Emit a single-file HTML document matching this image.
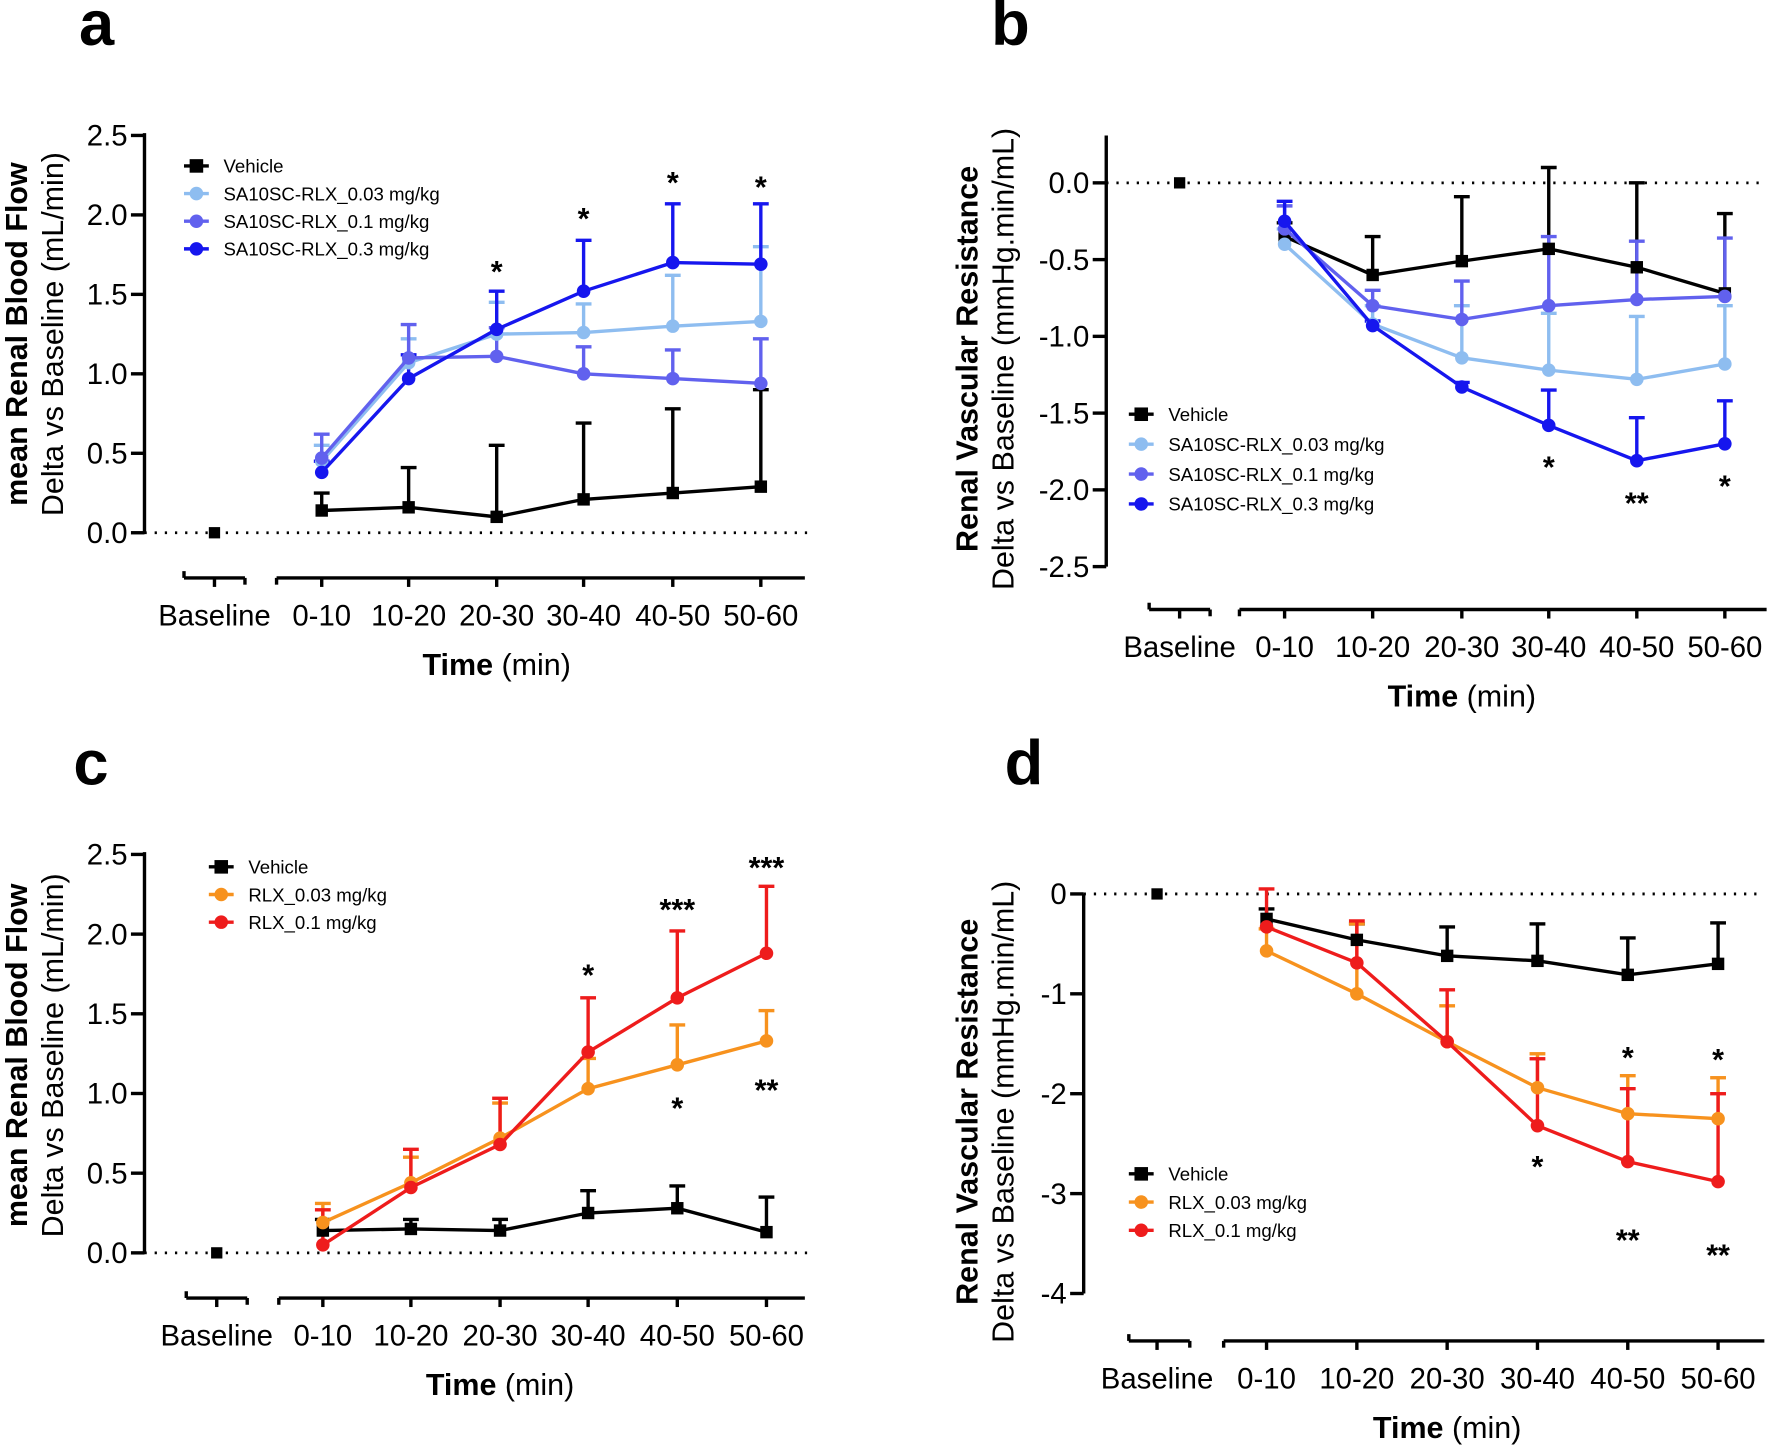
<!DOCTYPE html>
<html><head><meta charset="utf-8"><style>
html,body{margin:0;padding:0;background:#fff}
svg{display:block}
text{font-family:"Liberation Sans",Arial,sans-serif}
</style></head><body>
<svg id="s" xmlns="http://www.w3.org/2000/svg" width="1770" height="1447" viewBox="0 0 1568 1282" preserveAspectRatio="none"></svg>
<script>
const S=document.getElementById('s');let h='';
function add(x){h+=x;}
function panel(p){
  const Y=v=>p.y0+(v-p.v0)*(p.y1-p.y0)/(p.v1-p.v0);
  add(`<line x1="${p.ax}" y1="${p.atop}" x2="${p.ax}" y2="${p.abot}" stroke="#000" stroke-width="3"/>`);
  p.ticks.forEach(t=>{const y=Y(t[0]);add(`<line x1="${p.ax-12}" y1="${y}" x2="${p.ax}" y2="${y}" stroke="#000" stroke-width="3"/><text x="${p.ax-15}" y="${y+9}" font-size="26" text-anchor="end">${t[1]}</text>`);});
  const yz=Y(0);add(`<line x1="${p.ax}" y1="${yz}" x2="${p.xend}" y2="${yz}" stroke="#000" stroke-width="2.5" stroke-dasharray="2,7"/>`);
  const xb=p.xaxY;
  add(`<line x1="${p.bs[0]}" y1="${xb}" x2="${p.bs[1]}" y2="${xb}" stroke="#000" stroke-width="3"/>`);
  add(`<line x1="${p.bs[0]}" y1="${xb-6}" x2="${p.bs[0]}" y2="${xb}" stroke="#000" stroke-width="3"/><line x1="${p.bs[1]}" y1="${xb}" x2="${p.bs[1]}" y2="${xb+6}" stroke="#000" stroke-width="3"/>`);
  add(`<line x1="${p.ms[0]}" y1="${xb}" x2="${p.ms[1]}" y2="${xb}" stroke="#000" stroke-width="3"/><line x1="${p.ms[0]}" y1="${xb}" x2="${p.ms[0]}" y2="${xb+6}" stroke="#000" stroke-width="3"/>`);
  p.cx.forEach(x=>add(`<line x1="${x}" y1="${xb}" x2="${x}" y2="${xb+8}" stroke="#000" stroke-width="3"/>`));
  const labs=['Baseline','0-10','10-20','20-30','30-40','40-50','50-60'];
  labs.forEach((l,i)=>add(`<text x="${p.cx[i]}" y="${xb+42}" font-size="26" text-anchor="middle">${l}</text>`));
  add(`<text x="${p.cx[3]}" y="${xb+86}" font-size="27" text-anchor="middle"><tspan font-weight="bold">Time</tspan> (min)</text>`);
  add(`<text transform="translate(${p.yl1},${p.ylc}) rotate(-90)" font-size="27" font-weight="bold" text-anchor="middle">${p.t1}</text>`);
  add(`<text transform="translate(${p.yl2},${p.ylc}) rotate(-90)" font-size="27" text-anchor="middle">${p.t2}</text>`);
  add(`<text x="${p.lx}" y="${p.ly}" font-size="56" font-weight="bold">${p.letter}</text>`);
  add(`<rect x="${p.cx[0]-5}" y="${yz-5}" width="10" height="10" fill="#000"/>`);
  p.series.forEach(s=>{
    s.v.forEach((v,i)=>{const x=p.cx[i+1];const e=s.e[i];
      add(`<line x1="${x}" y1="${Y(v)}" x2="${x}" y2="${Y(e)}" stroke="${s.c}" stroke-width="3"/><line x1="${x-7}" y1="${Y(e)}" x2="${x+7}" y2="${Y(e)}" stroke="${s.c}" stroke-width="3"/>`);});
  });
  p.series.forEach(s=>{
    add(`<polyline fill="none" stroke="${s.c}" stroke-width="3" points="${s.v.map((v,i)=>p.cx[i+1]+','+Y(v)).join(' ')}"/>`);
    s.v.forEach((v,i)=>{const x=p.cx[i+1],y=Y(v);
      add(s.sq?`<rect x="${x-5.5}" y="${y-5.5}" width="11" height="11" fill="${s.c}"/>`:`<circle cx="${x}" cy="${y}" r="6" fill="${s.c}"/>`);});
  });
  p.series.forEach((s,i)=>{const y=p.leg[1]+i*p.leg[2];const x=p.leg[0];
    add(`<line x1="${x}" y1="${y}" x2="${x+22}" y2="${y}" stroke="${s.c}" stroke-width="3"/>`+(s.sq?`<rect x="${x+5}" y="${y-6}" width="12" height="12" fill="${s.c}"/>`:`<circle cx="${x+11}" cy="${y}" r="6" fill="${s.c}"/>`)+`<text x="${x+35}" y="${y+6}" font-size="16.5">${s.n}</text>`);});
  p.stars.forEach(t=>add(`<text x="${p.cx[t[0]]}" y="${t[1]}" font-size="27" font-weight="bold" text-anchor="middle">${t[2]}</text>`));
}
const K='#000',LB='#8ebdf0',MB='#6161ee',B='#1616ee',O='#f7921e',R='#ee1c1c';
panel({letter:'a',lx:70,ly:40,ax:128,atop:118,abot:472,y0:472,y1:120,v0:0,v1:2.5,
 ticks:[[0,'0.0'],[0.5,'0.5'],[1,'1.0'],[1.5,'1.5'],[2,'2.0'],[2.5,'2.5']],xend:715,xaxY:512,bs:[163,217],ms:[245,713],
 cx:[190,285,362,440,517,596,674],yl1:24,yl2:56,ylc:296,t1:'mean Renal Blood Flow',t2:'Delta vs Baseline (mL/min)',leg:[163,147,24.5],
 series:[{n:'Vehicle',c:K,sq:1,v:[.14,.16,.10,.21,.25,.29],e:[.25,.41,.55,.69,.78,.9]},
 {n:'SA10SC-RLX_0.03 mg/kg',c:LB,v:[.45,1.07,1.25,1.26,1.30,1.33],e:[.55,1.22,1.45,1.44,1.62,1.80]},
 {n:'SA10SC-RLX_0.1 mg/kg',c:MB,v:[.47,1.10,1.11,1.00,.97,.94],e:[.62,1.31,1.29,1.17,1.15,1.22]},
 {n:'SA10SC-RLX_0.3 mg/kg',c:B,v:[.38,.97,1.28,1.52,1.70,1.69],e:[.45,1.12,1.52,1.84,2.07,2.07]}],
 stars:[[3,250,'*'],[4,203,'*'],[5,171,'*'],[6,175,'*']]});
panel({letter:'b',lx:878,ly:40,ax:980,atop:120,abot:502,y0:162,y1:502,v0:0,v1:-2.5,
 ticks:[[0,'0.0'],[-.5,'-0.5'],[-1,'-1.0'],[-1.5,'-1.5'],[-2,'-2.0'],[-2.5,'-2.5']],xend:1562,xaxY:540,bs:[1018,1072],ms:[1098,1565],
 cx:[1045,1138,1216,1295,1372,1450,1528],yl1:866,yl2:898,ylc:318,t1:'Renal Vascular Resistance',t2:'Delta vs Baseline (mmHg.min/mL)',leg:[1000,367,26.5],
 series:[{n:'Vehicle',c:K,sq:1,v:[-.35,-.6,-.51,-.43,-.55,-.72],e:[-.26,-.35,-.09,.1,0,-.2]},
 {n:'SA10SC-RLX_0.03 mg/kg',c:LB,v:[-.40,-.92,-1.14,-1.22,-1.28,-1.18],e:[-.3,-.8,-.8,-.85,-.87,-.8]},
 {n:'SA10SC-RLX_0.1 mg/kg',c:MB,v:[-.3,-.8,-.89,-.8,-.76,-.74],e:[-.15,-.7,-.64,-.35,-.38,-.36]},
 {n:'SA10SC-RLX_0.3 mg/kg',c:B,v:[-.25,-.93,-1.33,-1.58,-1.81,-1.70],e:[-.12,-.9,-1.3,-1.35,-1.53,-1.42]}],
 stars:[[4,423,'*'],[5,455,'**'],[6,440,'*']]});
panel({letter:'c',lx:65,ly:695,ax:128,atop:755,abot:1110,y0:1110,y1:757,v0:0,v1:2.5,
 ticks:[[0,'0.0'],[0.5,'0.5'],[1,'1.0'],[1.5,'1.5'],[2,'2.0'],[2.5,'2.5']],xend:715,xaxY:1150,bs:[165,219],ms:[247,713],
 cx:[192,286,364,443,521,600,679],yl1:24,yl2:56,ylc:935,t1:'mean Renal Blood Flow',t2:'Delta vs Baseline (mL/min)',leg:[185,768,24.5],
 series:[{n:'Vehicle',c:K,sq:1,v:[.14,.15,.14,.25,.28,.13],e:[.21,.21,.21,.39,.42,.35]},
 {n:'RLX_0.03 mg/kg',c:O,v:[.19,.44,.72,1.03,1.18,1.33],e:[.31,.6,.94,1.22,1.43,1.52]},
 {n:'RLX_0.1 mg/kg',c:R,v:[.05,.41,.68,1.26,1.60,1.88],e:[.27,.65,.97,1.6,2.02,2.3]}],
 stars:[[4,873,'*'],[5,815,'***'],[5,991,'*'],[6,778,'***'],[6,975,'**']]});
panel({letter:'d',lx:890,ly:695,ax:960,atop:792,abot:1146,y0:792,y1:1146,v0:0,v1:-4,
 ticks:[[0,'0'],[-1,'-1'],[-2,'-2'],[-3,'-3'],[-4,'-4']],xend:1562,xaxY:1188,bs:[1000,1054],ms:[1084,1563],
 cx:[1025,1122,1202,1282,1362,1442,1522],yl1:866,yl2:898,ylc:985,t1:'Renal Vascular Resistance',t2:'Delta vs Baseline (mmHg.min/mL)',leg:[1000,1040,25],
 series:[{n:'Vehicle',c:K,sq:1,v:[-.25,-.46,-.62,-.67,-.81,-.70],e:[-.15,-.3,-.33,-.3,-.44,-.29]},
 {n:'RLX_0.03 mg/kg',c:O,v:[-.57,-1.0,-1.48,-1.94,-2.2,-2.25],e:[-.35,-.3,-1.12,-1.6,-1.82,-1.84]},
 {n:'RLX_0.1 mg/kg',c:R,v:[-.33,-.69,-1.48,-2.32,-2.68,-2.88],e:[.05,-.27,-.96,-1.65,-1.95,-2.0]}],
 stars:[[4,1043,'*'],[5,946,'*'],[5,1108,'**'],[6,948,'*'],[6,1121,'**']]});
S.innerHTML=h;
</script>
</body></html>
